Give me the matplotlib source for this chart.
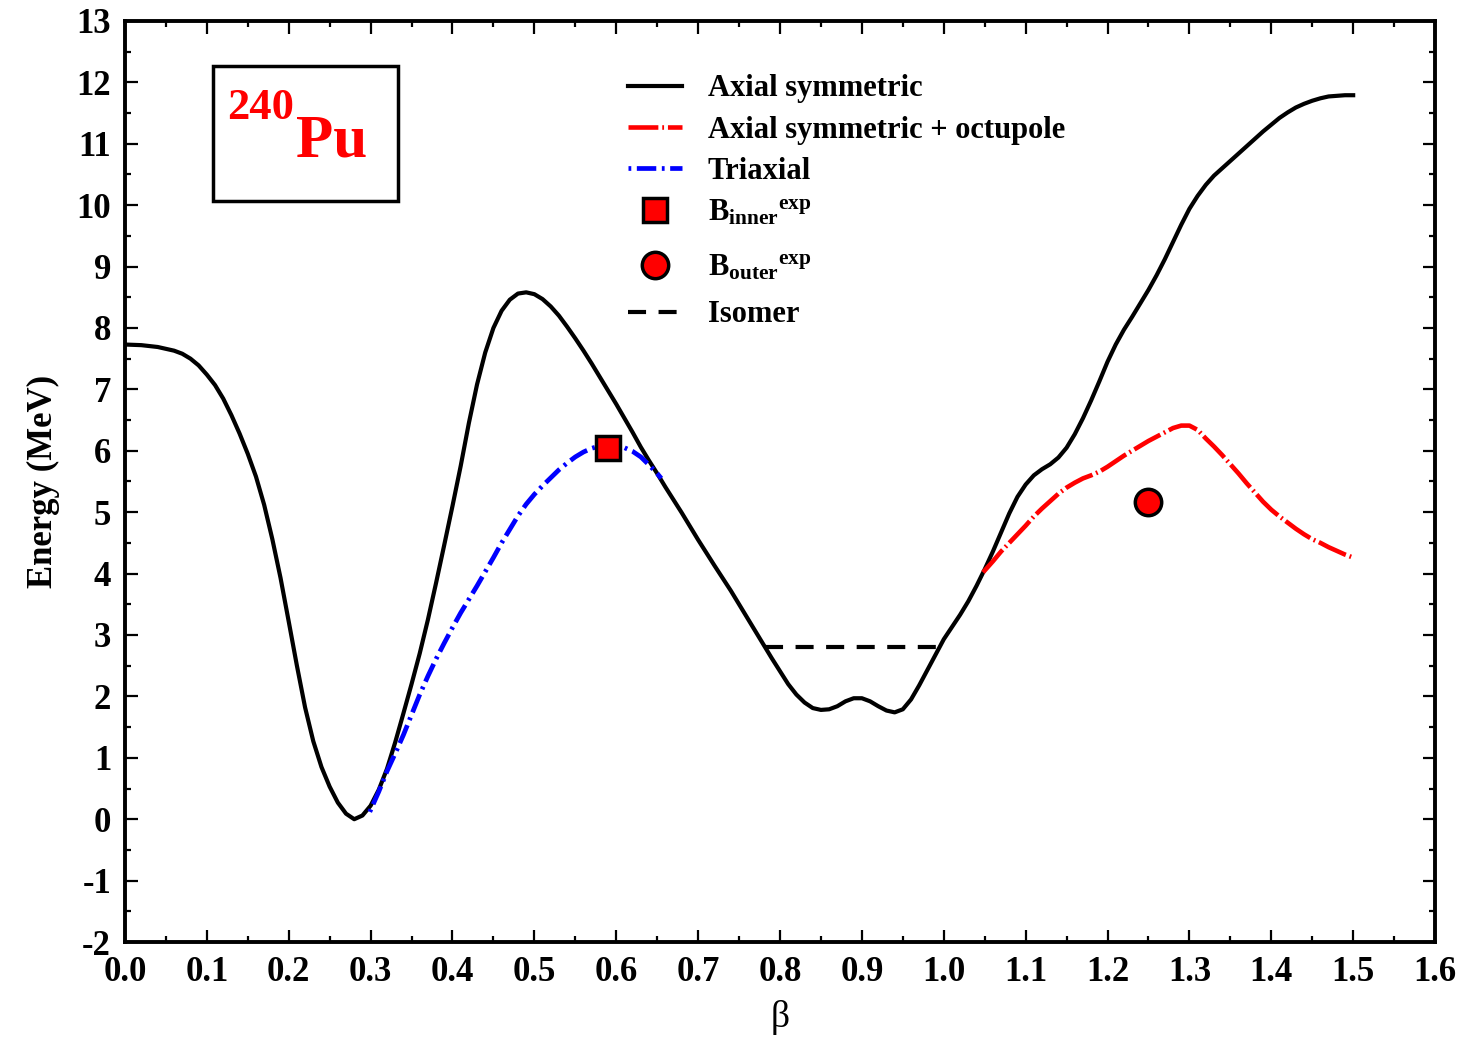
import numpy as np
import matplotlib
matplotlib.use('Agg')
import matplotlib.pyplot as plt
from matplotlib.ticker import MultipleLocator, FormatStrFormatter
from matplotlib.patches import Rectangle

plt.rcParams['font.family'] = 'Liberation Serif'
plt.rcParams['font.weight'] = 'bold'
plt.rcParams['mathtext.fontset'] = 'custom'
plt.rcParams['mathtext.rm'] = 'Liberation Serif:bold'
plt.rcParams['mathtext.bf'] = 'Liberation Serif:bold'
plt.rcParams['mathtext.it'] = 'Liberation Serif:bold'
plt.rcParams['axes.unicode_minus'] = False
plt.rcParams['lines.scale_dashes'] = False

# axial symmetric curve (beta, energy in MeV)
beta_ax = [0.00, 0.02, 0.04, 0.05, 0.06, 0.07, 0.08, 0.09, 0.10, 0.11,
           0.12, 0.13, 0.14, 0.15, 0.16, 0.17, 0.18, 0.19, 0.20, 0.21,
           0.22, 0.23, 0.24, 0.25, 0.26, 0.27, 0.28, 0.29, 0.30, 0.31,
           0.32, 0.33, 0.34, 0.35, 0.36, 0.37, 0.38, 0.39, 0.40, 0.41,
           0.42, 0.43, 0.44, 0.45, 0.46, 0.47, 0.48, 0.49, 0.50, 0.51,
           0.52, 0.53, 0.54, 0.55, 0.56, 0.57, 0.58, 0.59, 0.60, 0.61,
           0.62, 0.63, 0.64, 0.65, 0.66, 0.67, 0.68, 0.69, 0.70, 0.72,
           0.74, 0.76, 0.78, 0.79, 0.80, 0.81, 0.82, 0.83, 0.84, 0.85,
           0.86, 0.87, 0.88, 0.89, 0.90, 0.91, 0.92, 0.93, 0.94, 0.95,
           0.96, 0.97, 0.98, 0.99, 1.00, 1.01, 1.02, 1.03, 1.04, 1.05,
           1.06, 1.07, 1.08, 1.09, 1.10, 1.11, 1.12, 1.13, 1.14, 1.15,
           1.16, 1.17, 1.18, 1.19, 1.20, 1.21, 1.22, 1.23, 1.24, 1.25,
           1.26, 1.27, 1.28, 1.29, 1.30, 1.31, 1.32, 1.33, 1.34, 1.35,
           1.36, 1.37, 1.38, 1.39, 1.40, 1.41, 1.42, 1.43, 1.44, 1.45,
           1.46, 1.47, 1.48, 1.49, 1.50]
e_ax = [7.73, 7.72, 7.69, 7.66, 7.63, 7.58, 7.50, 7.39, 7.24, 7.07,
        6.85, 6.58, 6.28, 5.95, 5.58, 5.12, 4.56, 3.93, 3.22, 2.50,
        1.82, 1.27, 0.85, 0.53, 0.27, 0.09, 0.00, 0.06, 0.22, 0.48,
        0.82, 1.25, 1.72, 2.20, 2.70, 3.25, 3.85, 4.47, 5.10, 5.75,
        6.45, 7.08, 7.60, 8.00, 8.28, 8.46, 8.56, 8.58, 8.55, 8.47,
        8.35, 8.20, 8.02, 7.83, 7.63, 7.42, 7.20, 6.98, 6.76, 6.53,
        6.30, 6.06, 5.84, 5.63, 5.41, 5.20, 4.99, 4.77, 4.55, 4.13,
        3.72, 3.28, 2.84, 2.62, 2.41, 2.20, 2.03, 1.90, 1.81, 1.78,
        1.79, 1.84, 1.92, 1.97, 1.97, 1.92, 1.84, 1.77, 1.74, 1.79,
        1.95, 2.18, 2.43, 2.68, 2.93, 3.13, 3.33, 3.55, 3.80, 4.07,
        4.36, 4.67, 4.98, 5.25, 5.45, 5.60, 5.70, 5.78, 5.89, 6.05,
        6.27, 6.53, 6.82, 7.13, 7.45, 7.73, 7.97, 8.18, 8.40, 8.62,
        8.86, 9.12, 9.40, 9.68, 9.94, 10.15, 10.33, 10.48, 10.60, 10.72,
        10.84, 10.96, 11.08, 11.20, 11.31, 11.42, 11.51, 11.59, 11.65, 11.70,
        11.74, 11.77, 11.78, 11.79, 11.79]

# axial symmetric + octupole
beta_oct = [1.048, 1.06, 1.07, 1.08, 1.09, 1.10, 1.11, 1.12, 1.13, 1.14,
            1.15, 1.16, 1.17, 1.18, 1.19, 1.20, 1.21, 1.22, 1.23, 1.24,
            1.25, 1.26, 1.27, 1.28, 1.29, 1.30, 1.31, 1.32, 1.33, 1.34,
            1.35, 1.36, 1.37, 1.38, 1.39, 1.40, 1.41, 1.42, 1.43, 1.44,
            1.45, 1.46, 1.47, 1.48, 1.49, 1.50]
e_oct = [4.02, 4.20, 4.36, 4.50, 4.64, 4.78, 4.93, 5.06, 5.18, 5.30,
         5.40, 5.48, 5.55, 5.60, 5.66, 5.74, 5.83, 5.92, 6.00, 6.08,
         6.16, 6.23, 6.30, 6.37, 6.41, 6.41, 6.34, 6.20, 6.07, 5.93,
         5.78, 5.63, 5.47, 5.32, 5.17, 5.04, 4.93, 4.83, 4.73, 4.64,
         4.56, 4.50, 4.43, 4.37, 4.31, 4.26]

# triaxial
beta_tri = [0.299, 0.31, 0.32, 0.33, 0.34, 0.35, 0.36, 0.37, 0.38, 0.39,
            0.40, 0.41, 0.42, 0.43, 0.44, 0.45, 0.46, 0.47, 0.48, 0.49,
            0.50, 0.51, 0.52, 0.53, 0.54, 0.55, 0.56, 0.57, 0.58, 0.59,
            0.60, 0.61, 0.62, 0.63, 0.64, 0.65, 0.655]
e_tri = [0.12, 0.45, 0.78, 1.07, 1.37, 1.70, 2.03, 2.33, 2.61, 2.87,
         3.12, 3.36, 3.58, 3.80, 4.03, 4.26, 4.50, 4.72, 4.94, 5.13,
         5.29, 5.43, 5.56, 5.69, 5.80, 5.90, 5.98, 6.04, 6.08, 6.10,
         6.09, 6.05, 5.99, 5.90, 5.77, 5.63, 5.55]

# experimental barriers
b_inner = (0.590, 6.05)
b_outer = (1.250, 5.16)

# isomer level
iso_beta = [0.782, 0.998]
iso_e = 2.80

fig = plt.figure(figsize=(14.77, 10.46), dpi=100)
ax = fig.add_axes([0.0846, 0.0994, 0.887, 0.8806])

h_ax, = ax.plot(beta_ax, e_ax, color='black', linewidth=3, label='Axial symmetric')
h_oct, = ax.plot(beta_oct, e_oct, color='red', linewidth=3.3, dashes=(21.5, 2.8, 1.3, 2.8),
                 label='Axial symmetric + octupole')
h_tri, = ax.plot(beta_tri, e_tri, color='blue', linewidth=3.4, dashes=(2, 4, 14, 4),
                 label='Triaxial')
h_in, = ax.plot([b_inner[0]], [b_inner[1]], marker='s', markersize=17.5, color='red',
                markeredgecolor='black', markeredgewidth=2.5, linestyle='none',
                label=r'B$_{\rm inner}{}^{\rm exp}$')
h_out, = ax.plot([b_outer[0]], [b_outer[1]], marker='o', markersize=19, color='red',
                 markeredgecolor='black', markeredgewidth=2.5, linestyle='none',
                 label=r'B$_{\rm outer}{}^{\rm exp}$')
h_iso, = ax.plot(iso_beta, [iso_e, iso_e], color='black', linewidth=3, dashes=(13, 9),
                 label='Isomer')

ax.set_xlim(0, 1.6)
ax.set_ylim(-2, 13)
ax.xaxis.set_major_locator(MultipleLocator(0.1))
ax.xaxis.set_minor_locator(MultipleLocator(0.05))
ax.yaxis.set_major_locator(MultipleLocator(1))
ax.yaxis.set_minor_locator(MultipleLocator(0.5))
ax.xaxis.set_major_formatter(FormatStrFormatter('%.1f'))
ax.tick_params(which='both', direction='in', top=True, right=True, width=1.6)
ax.tick_params(which='major', length=9, labelsize=25, pad=10)
ax.tick_params(which='minor', length=4.5)
for s in ax.spines.values():
    s.set_linewidth(2.8)

ax.set_xlabel('β', fontsize=27, fontweight='normal', labelpad=8)
ax.set_ylabel('Energy (MeV)', fontsize=25, fontweight='bold', labelpad=12)

leg_kw = dict(loc='upper left', frameon=False, fontsize=22, handlelength=1.76,
              handletextpad=0.85, borderpad=0, borderaxespad=0, numpoints=1)
leg1 = ax.legend(handles=[h_ax, h_oct, h_tri, h_in], bbox_to_anchor=(0.384, 0.942),
                 labelspacing=0.40, **leg_kw)
ax.add_artist(leg1)
ax.legend(handles=[h_out, h_iso], bbox_to_anchor=(0.384, 0.748),
          labelspacing=0.58, **leg_kw)

ax.add_patch(Rectangle((0.0672, 0.804), 0.1412, 0.147, transform=ax.transAxes,
                       fill=False, edgecolor='black', linewidth=2.5))
ax.text(0.0779, 0.8935, '240', transform=ax.transAxes, color='red',
        fontsize=32, fontweight='bold', ha='left', va='baseline')
ax.text(0.1305, 0.853, 'Pu', transform=ax.transAxes, color='red',
        fontsize=44, fontweight='bold', ha='left', va='baseline')

fig.savefig('out.png', dpi=100)
